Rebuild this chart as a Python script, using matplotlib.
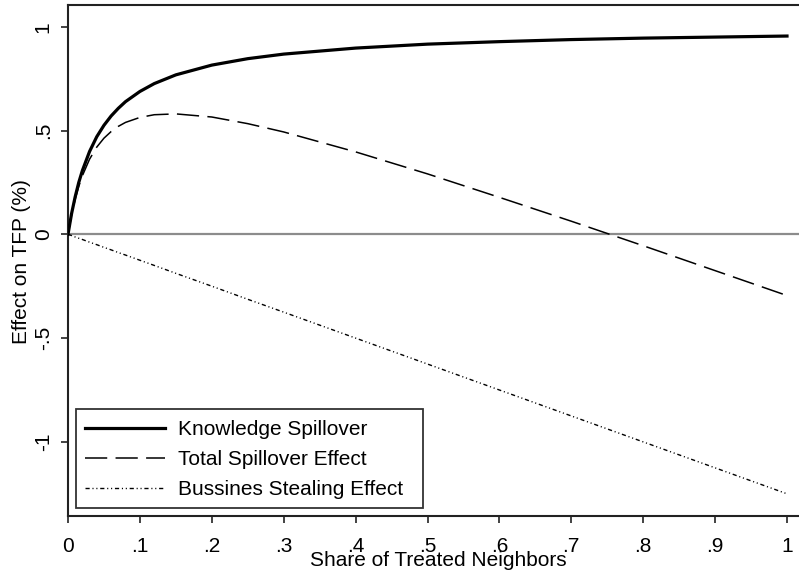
import matplotlib
matplotlib.use("Agg")
import matplotlib.pyplot as plt
from matplotlib.patches import Rectangle

plt.rcParams['font.family'] = ['Liberation Sans', 'DejaVu Sans']
plt.rcParams['lines.scale_dashes'] = False

# share of treated neighbors and the three effects (in % of TFP)
share = [0, 0.005, 0.01, 0.015, 0.02, 0.03, 0.04, 0.05, 0.06, 0.07, 0.08, 0.10,
         0.12, 0.15, 0.2, 0.25, 0.3, 0.4, 0.5, 0.6, 0.7, 0.8, 0.9, 1.0]
knowledge = [0, 0.100, 0.181, 0.250, 0.307, 0.399, 0.470, 0.525, 0.570, 0.607, 0.639, 0.688,
             0.726, 0.768, 0.815, 0.846, 0.868, 0.897, 0.916, 0.928, 0.938, 0.945, 0.950, 0.955]
total = [0, 0.094, 0.169, 0.231, 0.282, 0.362, 0.420, 0.463, 0.495, 0.520, 0.539, 0.563,
         0.576, 0.580, 0.565, 0.533, 0.493, 0.397, 0.291, 0.178, 0.063, -0.055, -0.175, -0.295]
stealing = [0, -0.006, -0.013, -0.019, -0.025, -0.038, -0.05, -0.063, -0.075, -0.088, -0.1, -0.125,
            -0.15, -0.188, -0.25, -0.313, -0.375, -0.5, -0.625, -0.75, -0.875, -1.0, -1.125, -1.25]

x_ticks = [0, 0.1, 0.2, 0.3, 0.4, 0.5, 0.6, 0.7, 0.8, 0.9, 1.0]
x_labels = ['0', '.1', '.2', '.3', '.4', '.5', '.6', '.7', '.8', '.9', '1']
y_ticks = [-1, -0.5, 0, 0.5, 1]
y_labels = ['-1', '-.5', '0', '.5', '1']

W, H = 799, 575
fig = plt.figure(figsize=(W / 100, H / 100), dpi=100)
ax = fig.add_axes([68 / W, 1 - 516 / H, (W - 68) / W, (516 - 5) / H])

ax.axhline(0, color='#8c8c8c', lw=1.6, zorder=1)
ax.plot(share, knowledge, color='black', lw=2.3, label='Knowledge Spillover', zorder=3)
ax.plot(share, total, color='black', lw=1.1, dashes=(16, 6), label='Total Spillover Effect', zorder=3)
ax.plot(share, stealing, color='black', lw=1.0, dashes=(3, 2, 0.8, 2, 0.8, 2),
        label='Bussines Stealing Effect', zorder=3)

ax.set_xlim(0, (W - 68) / 719)
ax.set_ylim((234.3 - 516) / 207.6, (234.3 - 5) / 207.6)

ax.set_xticks(x_ticks)
ax.set_xticklabels(x_labels)
ax.set_yticks(y_ticks)
ax.set_yticklabels(y_labels, rotation=90, va='center')
ax.tick_params(axis='both', direction='out', length=5, width=1.2, labelsize=15, color='#222222')
ax.tick_params(axis='x', pad=10)
ax.tick_params(axis='y', pad=6)

for side in ['left', 'bottom', 'top']:
    ax.spines[side].set_color('#222222')
    ax.spines[side].set_linewidth(1.5)
ax.spines['right'].set_visible(False)

fig.text(438 / W, 1 - 561 / H, 'Share of Treated Neighbors', fontsize=15, ha='center', va='center')
fig.text(22 / W, 1 - 262 / H, 'Effect on TFP (%)', fontsize=15, ha='center', va='center', rotation=90)

leg = ax.legend(loc='upper left', bbox_to_anchor=(85 / W, 1 - 420 / H), bbox_transform=fig.transFigure,
                frameon=False, fontsize=15, handlelength=3.85, handletextpad=0.6,
                labelspacing=0.53, borderpad=0, borderaxespad=0)
fig.patches.append(Rectangle((76 / W, 1 - 508 / H), (423 - 76) / W, (508 - 409) / H,
                             transform=fig.transFigure, fill=False, edgecolor='#333333', lw=1.3))

fig.savefig('out.png', dpi=100)
